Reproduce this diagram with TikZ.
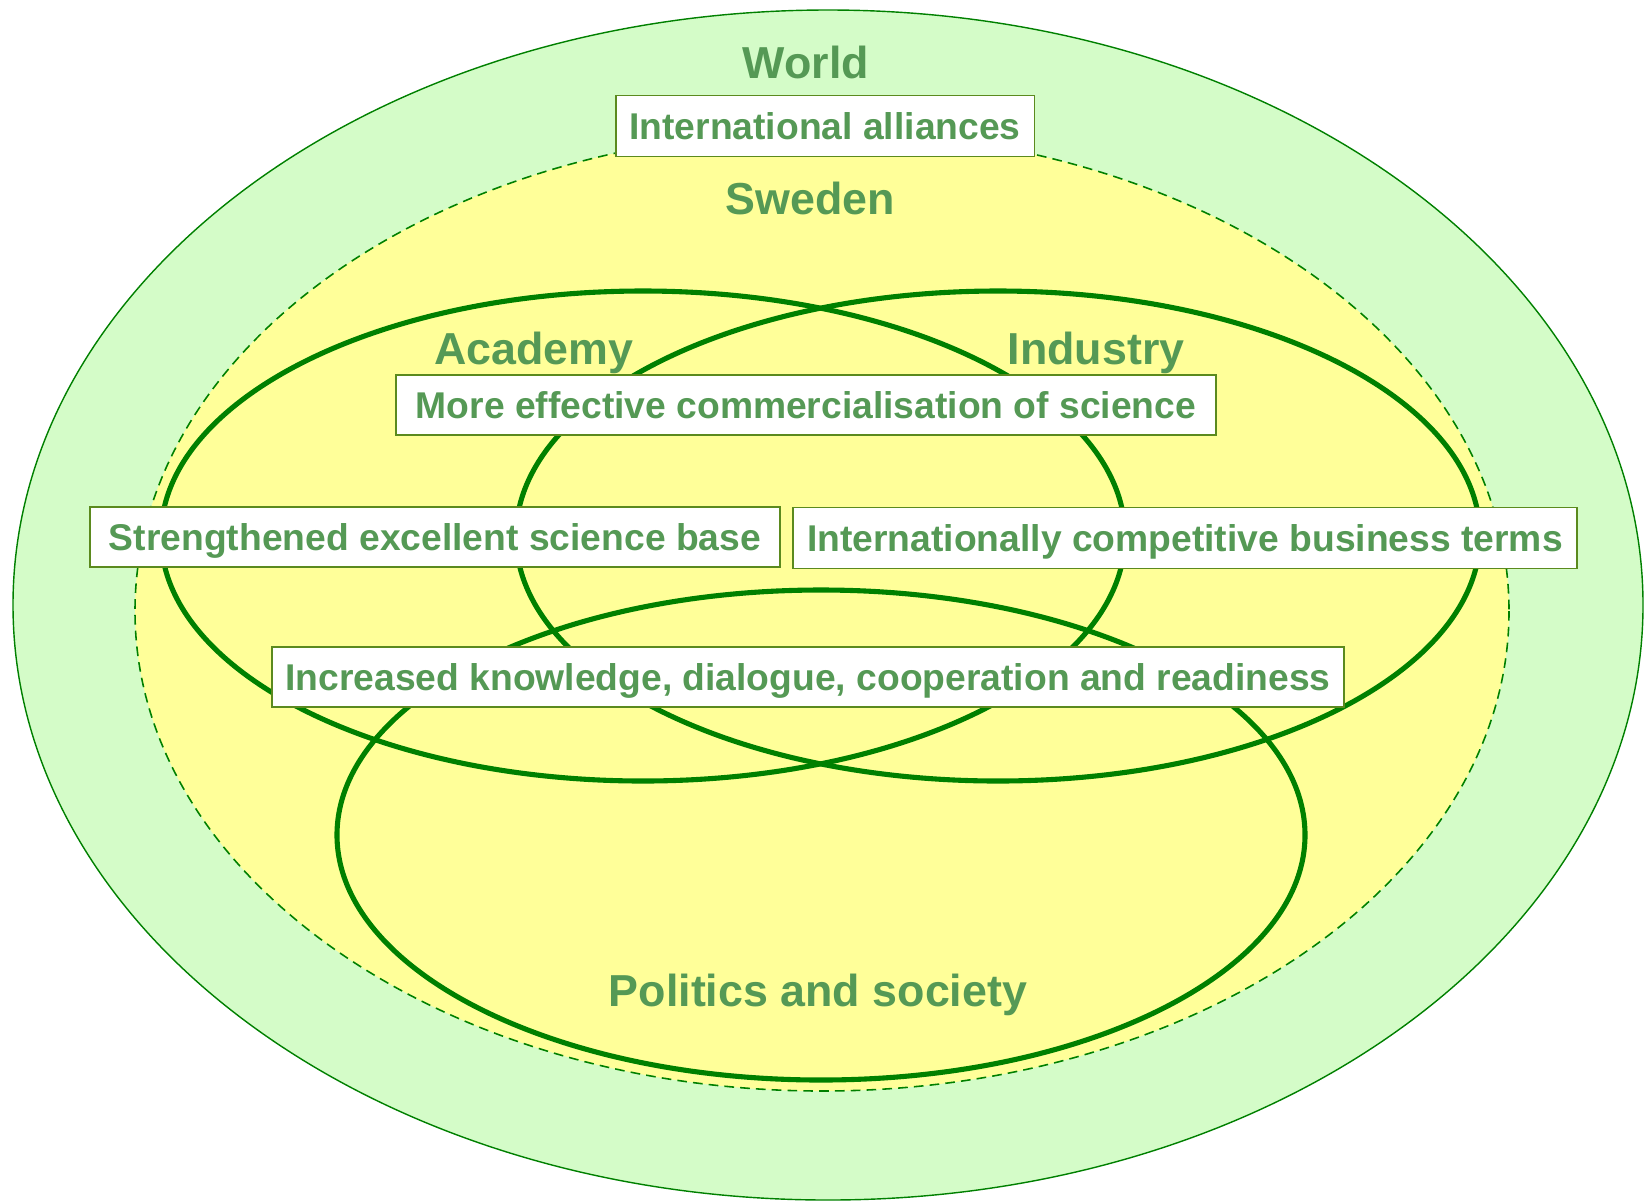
\documentclass[tikz,border=0pt]{standalone}
\usepackage{fontspec}
\setmainfont{Liberation Sans}
\definecolor{worldfill}{HTML}{D4FCC8}
\definecolor{swedenfill}{HTML}{FFFF99}
\definecolor{venngreen}{HTML}{008000}
\definecolor{labelgreen}{HTML}{559955}
\definecolor{boxgreen}{HTML}{5B8A1E}
\tikzset{
  areatext/.style={text=labelgreen, font=\fontsize{25.5}{30}\selectfont\bfseries,
    inner sep=0pt, text height=18.3pt, text depth=0pt},
  goalbox/.style={draw=boxgreen, line width=1.1pt, fill=white, text=labelgreen,
    font=\fontsize{21.2}{25}\selectfont\bfseries, inner sep=0pt, minimum height=1.2cm,
    text height=15.2pt, text depth=0pt},
  venn/.style={draw=venngreen, line width=2.9pt}
}
\begin{document}
\begin{tikzpicture}[x=0.02cm, y=-0.02cm]
\useasboundingbox (0,0) rectangle (1652,1201);

% world and sweden
\draw[fill=worldfill, draw=venngreen, line width=0.8pt] (828,605) ellipse [x radius=815, y radius=595];
\draw[fill=swedenfill, draw=venngreen, line width=0.9pt, dash pattern=on 5.5pt off 3.5pt] (822,611) ellipse [x radius=687, y radius=480];

% draw the three circles
\draw[venn] (643,536) ellipse [x radius=482, y radius=245];
\draw[venn] (998,536) ellipse [x radius=482, y radius=245];
\draw[venn] (821,835) ellipse [x radius=484, y radius=245];

% draw labels
\node[areatext] (world) at (806,62) {World};
\node[areatext] (sweden) at (810,198) {Sweden};
\node[areatext] (academy) at (534,348) {Academy};
\node[areatext] (industry) at (1096,348) {Industry};
\node[areatext] (politics) at (818,990) {Politics and society};

% draw boxes
\node[goalbox, minimum width=8.38cm, minimum height=1.22cm] (alliances) at (825,126) {International alliances};
\node[goalbox, minimum width=16.4cm] (commerce) at (806,405) {More effective commercialisation of science};
\node[goalbox, minimum width=13.8cm] (science) at (435,537) {Strengthened excellent science base};
\node[goalbox, minimum width=15.7cm, minimum height=1.22cm] (business) at (1185,538) {Internationally competitive business terms};
\node[goalbox, minimum width=21.44cm] (knowledge) at (808,677) {Increased knowledge, dialogue, cooperation and readiness};

\end{tikzpicture}
\end{document}
